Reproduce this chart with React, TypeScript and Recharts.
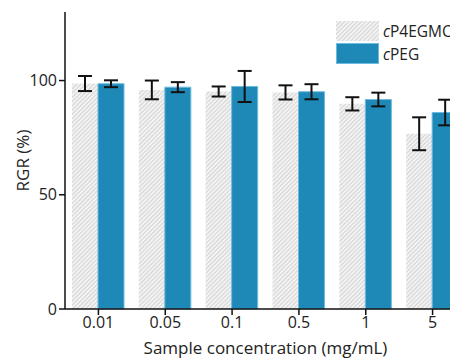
import React from "react";
import { BarChart, Bar, XAxis, YAxis, ErrorBar } from "recharts";

const concentrations = ["0.01", "0.05", "0.1", "0.5", "1", "5"];
const p4egmcRgr = [98.7, 95.9, 95.2, 94.8, 89.8, 76.7];
const p4egmcErr = [3.3, 4.1, 2.2, 3.1, 2.9, 7.2];
const pegRgr = [98.6, 97.1, 97.4, 95.1, 91.7, 86.0];
const pegErr = [1.5, 2.2, 6.8, 3.3, 3.0, 5.6];
const yTicks = [0, 50, 100];

const data = concentrations.map((c, i) => ({
  c,
  p4: p4egmcRgr[i],
  p4e: p4egmcErr[i],
  peg: pegRgr[i],
  pege: pegErr[i],
}));

const font = "'Open Sans', sans-serif";
const BLUE = "#1e88b6";

function YLabel(props: any) {
  const vb = props.viewBox || { x: 0, y: 0, width: 57, height: 297 };
  const cx = vb.x + 14;
  const cy = vb.y + vb.height / 2;
  return (
    <text x={cx} y={cy} transform={`rotate(-90 ${cx} ${cy})`} textAnchor="middle" dominantBaseline="central"
      fontFamily={font} fontSize={17} fill="#222">
      RGR (%)
    </text>
  );
}

function LegendBox() {
  const row = { display: "flex", alignItems: "center", height: 23 } as const;
  return (
    <div style={{ position: "absolute", left: 328, top: 11, fontFamily: font, fontSize: 15.5, color: "#222", whiteSpace: "nowrap" }}>
      <div style={row}>
        <svg width={43} height={20} style={{ marginRight: 4 }}>
          <rect width={43} height={20} fill="url(#hatch)" />
        </svg>
        <span><i>c</i>P4EGMC</span>
      </div>
      <div style={row}>
        <svg width={43} height={21} style={{ marginRight: 4 }}>
          <rect x={0.5} y={0.5} width={42} height={20} fill={BLUE} stroke="#6bbbe0" />
        </svg>
        <span><i>c</i>PEG</span>
      </div>
    </div>
  );
}

export default function App() {
  return (
    <div style={{ position: "relative", width: 450, height: 350, overflow: "hidden" }}>
      <BarChart
        width={458}
        height={350}
        data={data}
        margin={{ top: 4, right: 0, bottom: 0, left: 0 }}
        barSize={26}
        barGap={0}
      >
        <defs>
          <pattern id="hatch" width={3} height={3} patternUnits="userSpaceOnUse" patternTransform="rotate(45)">
            <rect width={3} height={3} fill="#f2f2f2" />
            <line x1={0} y1={0} x2={0} y2={3} stroke="#c0c0c0" strokeWidth={1.2} />
          </pattern>
        </defs>
        <XAxis
          dataKey="c"
          height={49}
          axisLine={{ stroke: "#111", strokeWidth: 1.5 }}
          tickLine={{ stroke: "#111", strokeWidth: 1.5 }}
          tickSize={6}
          tick={{ fontFamily: font, fontSize: 16, fill: "#222" }}
          label={{ value: "Sample concentration (mg/mL)", position: "insideBottom", offset: 4, fontFamily: font, fontSize: 17, fill: "#222" }}
        />
        <XAxis xAxisId="top" dataKey="c" orientation="top" height={0} tick={false} tickLine={false} axisLine={{ stroke: "#111", strokeWidth: 1.5 }} />
        <YAxis
          width={57}
          domain={[0, 130]}
          ticks={yTicks}
          interval={0}
          axisLine={{ stroke: "#111", strokeWidth: 1.5 }}
          tickLine={{ stroke: "#111", strokeWidth: 1.5 }}
          tickSize={6}
          tick={{ fontFamily: font, fontSize: 16, fill: "#222" }}
          label={<YLabel />}
        />
        <Bar dataKey="p4" fill="url(#hatch)" isAnimationActive={false}>
          <ErrorBar dataKey="p4e" width={7} stroke="#111" strokeWidth={2} />
        </Bar>
        <Bar dataKey="peg" fill={BLUE} stroke="#6bbbe0" strokeWidth={1} isAnimationActive={false}>
          <ErrorBar dataKey="pege" width={7} stroke="#111" strokeWidth={2} />
        </Bar>
      </BarChart>
      <LegendBox />
    </div>
  );
}
